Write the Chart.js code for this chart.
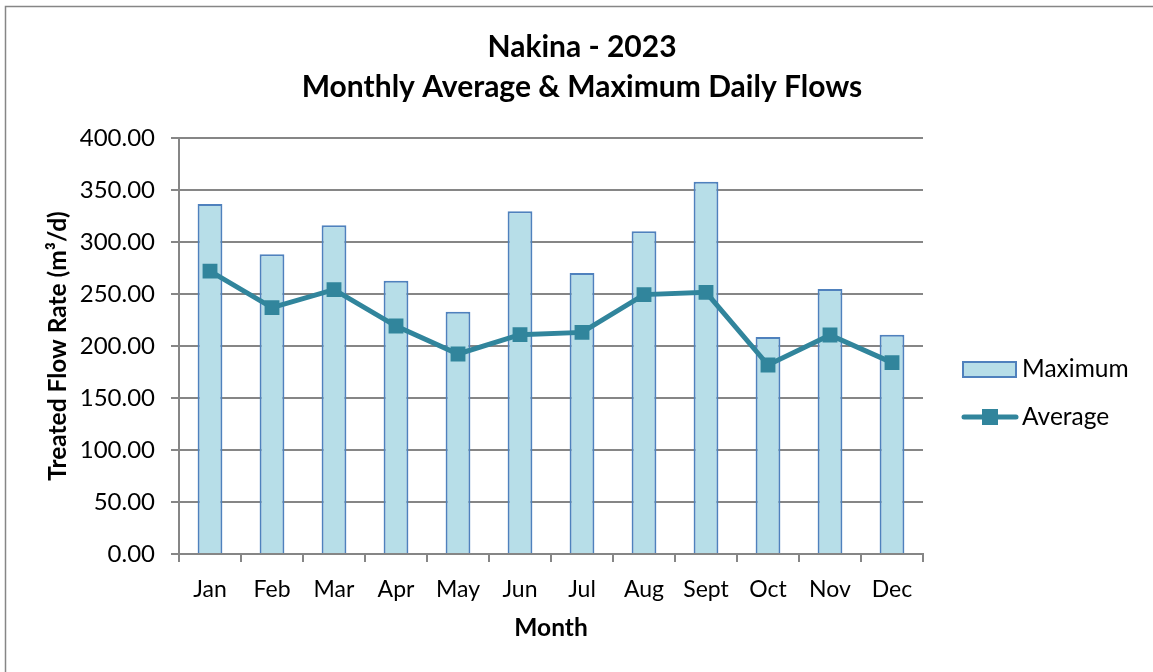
<!DOCTYPE html>
<html>
<head>
<meta charset="utf-8">
<script src="https://cdn.jsdelivr.net/npm/chart.js@4.4.0/dist/chart.umd.min.js"></script>
<style>
    body { margin: 0; background: #ffffff; }
    #wrap { width: 1153px; height: 672px; }
</style>
</head>
<body>
<div id="wrap"><canvas id="flows" width="1153" height="672"></canvas></div>
<script>
const months = ["Jan", "Feb", "Mar", "Apr", "May", "Jun", "Jul", "Aug", "Sept", "Oct", "Nov", "Dec"];
const maximumFlows = [336.5, 288.2, 316.0, 262.8, 233.0, 329.5, 270.2, 310.3, 358.0, 208.7, 254.8, 210.9];
const averageFlows = [272.0, 236.9, 254.2, 219.2, 192.3, 210.9, 213.1, 249.4, 251.6, 181.7, 210.6, 184.0];

const titleLines = ["Nakina - 2023", "Monthly Average & Maximum Daily Flows"];
const xTitle = "Month";
const yTitle = "Treated Flow Rate (m³/d)";

const fontFamily = "Lato, 'Open Sans', sans-serif";
const gridGrey = "#868686";
const lineColor = "#31859c";
const barFill = "#b7dee8";
const barBorder = "#4f81bd";

// frame around the whole chart, like the Excel chart border
const framePlugin = {
    id: "frame",
    beforeDraw(chart) {
        const ctx = chart.ctx;
        ctx.save();
        ctx.fillStyle = "#ffffff";
        ctx.fillRect(0, 0, chart.width, chart.height);
        ctx.strokeStyle = gridGrey;
        ctx.lineWidth = 1.5;
        ctx.strokeRect(5.5, 6.5, chart.width + 20, chart.height + 20);
        ctx.restore();
    }
};

// title centred on the whole canvas, not just the plot
const pageTitle = {
    id: "pageTitle",
    afterDraw(chart) {
        const ctx = chart.ctx;
        ctx.save();
        ctx.font = "bold 30px " + fontFamily;
        ctx.fillStyle = "#000000";
        ctx.textAlign = "center";
        ctx.textBaseline = "middle";
        titleLines.forEach((t, i) => ctx.fillText(t, 582, 47 + i * 40));
        ctx.restore();
    }
};

// legend drawn at the spot it sits in the reference
const sideLegend = {
    id: "sideLegend",
    afterDraw(chart) {
        const ctx = chart.ctx;
        const bar = chart.data.datasets[0];
        const line = chart.data.datasets[1];
        ctx.save();
        ctx.font = "24.5px " + fontFamily;
        ctx.textBaseline = "middle";

        ctx.fillStyle = bar.backgroundColor;
        ctx.fillRect(963, 362, 53, 15);
        ctx.strokeStyle = bar.borderColor;
        ctx.lineWidth = 2;
        ctx.strokeRect(963, 362, 53, 15);
        ctx.fillStyle = "#000000";
        ctx.fillText(bar.label, 1022, 369);

        ctx.strokeStyle = line.borderColor;
        ctx.lineWidth = 5;
        ctx.lineCap = "round";
        ctx.beginPath();
        ctx.moveTo(964, 417);
        ctx.lineTo(1016, 417);
        ctx.stroke();
        ctx.fillStyle = line.pointBackgroundColor;
        ctx.fillRect(982, 409, 16, 16);
        ctx.fillStyle = "#000000";
        ctx.fillText(line.label, 1022, 417);
        ctx.restore();
    }
};

new Chart(document.getElementById("flows"), {
    type: "bar",
    plugins: [framePlugin, pageTitle, sideLegend],
    data: {
        labels: months,
        datasets: [
            {
                type: "bar",
                label: "Maximum",
                data: maximumFlows,
                backgroundColor: barFill,
                borderColor: barBorder,
                borderWidth: 2,
                barPercentage: 0.4,
                categoryPercentage: 1.0,
                order: 2
            },
            {
                type: "line",
                label: "Average",
                data: averageFlows,
                borderColor: lineColor,
                borderWidth: 5,
                tension: 0,
                pointStyle: "rect",
                pointRadius: 10.5,
                pointBackgroundColor: lineColor,
                pointBorderColor: lineColor,
                pointBorderWidth: 0,
                order: 1
            }
        ]
    },
    options: {
        responsive: false,
        animation: false,
        devicePixelRatio: 1,
        layout: { padding: { top: 138, right: 230, bottom: 0, left: 0 } },
        plugins: {
            legend: { display: false },
            tooltip: { enabled: false },
            title: { display: false }
        },
        scales: {
            x: {
                afterFit(scale) { scale.height = 118; },
                grid: {
                    display: true,
                    offset: true,
                    drawOnChartArea: false,
                    drawTicks: true,
                    tickLength: 8,
                    color: gridGrey,
                    lineWidth: 2
                },
                border: { display: true, color: gridGrey, width: 2 },
                ticks: {
                    color: "#000000",
                    padding: 14,
                    maxRotation: 0,
                    font: { family: fontFamily, size: 23 }
                },
                title: {
                    display: true,
                    text: xTitle,
                    color: "#000000",
                    font: { family: fontFamily, size: 24.5, weight: "bold" },
                    padding: { top: 0, bottom: 29 }
                }
            },
            y: {
                min: 0,
                max: 400,
                afterFit(scale) { scale.width = 179; },
                grid: {
                    color: gridGrey,
                    lineWidth: 2,
                    drawTicks: true,
                    tickLength: 8
                },
                border: { display: true, color: gridGrey, width: 2 },
                ticks: {
                    stepSize: 50,
                    color: "#000000",
                    padding: 16,
                    font: { family: fontFamily, size: 24 },
                    callback: (v) => v.toFixed(2)
                },
                title: {
                    display: true,
                    text: yTitle,
                    color: "#000000",
                    font: { family: fontFamily, size: 24.5, weight: "bold" },
                    padding: { top: 43, bottom: 0 }
                }
            }
        }
    }
});
</script>
</body>
</html>
